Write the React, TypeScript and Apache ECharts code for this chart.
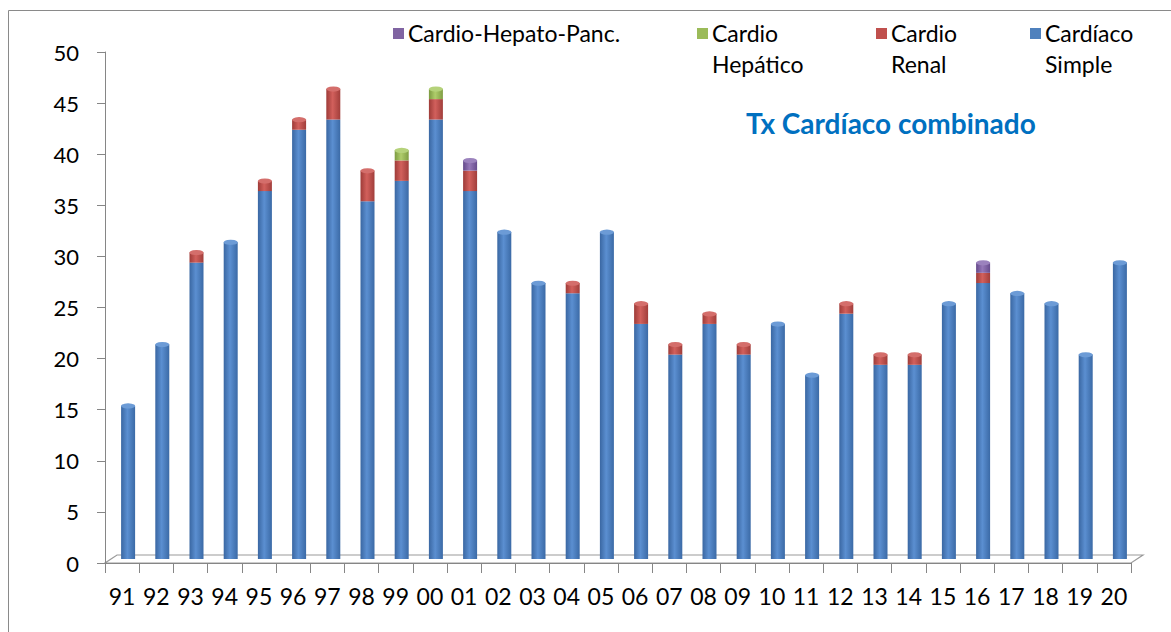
import React, { useEffect, useRef } from "react";
import * as echarts from "echarts";

const years = ["91","92","93","94","95","96","97","98","99","00","01","02","03","04","05","06","07","08","09","10","11","12","13","14","15","16","17","18","19","20"];
const cardiacoSimple = [15,21,29,31,36,42,43,35,37,43,36,32,27,26,32,23,20,23,20,23,18,24,19,19,25,27,26,25,20,29];
const cardioRenal = [0,0,1,0,1,1,3,3,2,2,2,0,0,1,0,2,1,1,1,0,0,1,1,1,0,1,0,0,0,0];
const cardioHepatico = [0,0,0,0,0,0,0,0,1,1,0,0,0,0,0,0,0,0,0,0,0,0,0,0,0,0,0,0,0,0];
const cardioHepatoPanc = [0,0,0,0,0,0,0,0,0,0,1,0,0,0,0,0,0,0,0,0,0,0,0,0,0,1,0,0,0,0];
const yMin = 0;
const yMax = 50;
const yInterval = 5;

const FONT = 'Lato, "Open Sans", sans-serif';

const palette = {
  simple: ["#3a67a2", "#5b8fd1", "#3b6aa6"],
  renal: ["#9e3b38", "#d2605c", "#a13e3b"],
  hepatico: ["#7c9a40", "#afcd6b", "#7f9d43"],
  panc: ["#64498a", "#9578b8", "#674c8d"],
};
const capColors = {
  simple: "#6c9bd6",
  renal: "#d46e6b",
  hepatico: "#b5d27a",
  panc: "#9b82bd",
};

function cyl(c: string[]) {
  return new echarts.graphic.LinearGradient(0, 0, 1, 0, [
    { offset: 0, color: c[0] },
    { offset: 0.45, color: c[1] },
    { offset: 1, color: c[2] },
  ]);
}

export default function App() {
  const ref = useRef<HTMLDivElement>(null);
  useEffect(() => {
    if (!ref.current) return;
    const chart = echarts.init(ref.current, undefined, { renderer: "svg" });

    const totals = years.map((_, i) => cardiacoSimple[i] + cardioRenal[i] + cardioHepatico[i] + cardioHepatoPanc[i]);
    const capData = totals.map((t, i) => {
      let key: keyof typeof capColors = "simple";
      if (cardioHepatoPanc[i] > 0) key = "panc";
      else if (cardioHepatico[i] > 0) key = "hepatico";
      else if (cardioRenal[i] > 0) key = "renal";
      return { value: t, itemStyle: { color: capColors[key], borderColor: palette[key][0], borderWidth: 0.6 } };
    });

    const barCommon = {
      type: "bar" as const,
      stack: "total",
      xAxisIndex: 1,
      yAxisIndex: 1,
      barWidth: 14,
    };

    const legendItems = [
      { x: 393, color: "#8064A2", lines: ["Cardio-Hepato-Panc."] },
      { x: 697, color: "#9BBB59", lines: ["Cardio", "Hepático"] },
      { x: 876, color: "#C0504D", lines: ["Cardio", "Renal"] },
      { x: 1030, color: "#4F81BD", lines: ["Cardíaco", "Simple"] },
    ];
    const legendGraphics: any[] = [];
    legendItems.forEach((it) => {
      legendGraphics.push({ type: "rect", z: 100, shape: { x: it.x, y: 28, width: 11, height: 11 }, style: { fill: it.color } });
      it.lines.forEach((ln, j) => {
        legendGraphics.push({
          type: "text",
          z: 100,
          x: it.x + 15,
          y: 33 + j * 31,
          style: { text: ln, fill: "#000", font: `23px ${FONT}`, verticalAlign: "middle", align: "left" },
        });
      });
    });

    chart.setOption({
      animation: false,
      backgroundColor: "#ffffff",
      title: {
        text: "Tx Cardíaco combinado",
        left: 741,
        top: 104,
        textStyle: { color: "#0070C0", fontSize: 28, fontWeight: "bold", fontFamily: FONT },
      },
      grid: [
        { left: 105, right: 40, top: 52, bottom: 69 },
        { left: 111, right: 34, top: 48, bottom: 73 },
      ],
      xAxis: [
        {
          type: "category",
          gridIndex: 0,
          data: years,
          boundaryGap: true,
          axisLine: { show: true, lineStyle: { color: "#868686", width: 1 } },
          axisTick: { show: true, length: 10, interval: 0, lineStyle: { color: "#868686" } },
          axisLabel: { interval: 0, color: "#000", fontSize: 23, fontFamily: FONT, margin: 21 },
          splitLine: { show: false },
        },
        { type: "category", gridIndex: 1, data: years, show: false },
      ],
      yAxis: [
        {
          type: "value",
          gridIndex: 0,
          min: yMin,
          max: yMax,
          interval: yInterval,
          axisLine: { show: true, lineStyle: { color: "#868686", width: 1 } },
          axisTick: { show: true, length: 8, lineStyle: { color: "#868686" } },
          axisLabel: { color: "#000", fontSize: 22, fontFamily: FONT, margin: 26 },
          splitLine: { show: false },
        },
        { type: "value", gridIndex: 1, min: yMin, max: yMax, interval: yInterval, show: false },
      ],
      series: [
        { ...barCommon, name: "Cardíaco Simple", data: cardiacoSimple, itemStyle: { color: cyl(palette.simple) } },
        { ...barCommon, name: "Cardio Renal", data: cardioRenal, itemStyle: { color: cyl(palette.renal) } },
        { ...barCommon, name: "Cardio Hepático", data: cardioHepatico, itemStyle: { color: cyl(palette.hepatico) } },
        { ...barCommon, name: "Cardio-Hepato-Panc.", data: cardioHepatoPanc, itemStyle: { color: cyl(palette.panc) } },
        {
          type: "pictorialBar",
          name: "cap",
          xAxisIndex: 1,
          yAxisIndex: 1,
          symbol: "circle",
          symbolSize: [14, 5],
          symbolPosition: "end",
          symbolOffset: [0, "-50%"],
          z: 10,
          data: capData,
          silent: true,
        },
      ],
      graphic: [
        {
          type: "rect",
          z: -10,
          shape: { x: 8.5, y: 10.5, width: 1300, height: 800 },
          style: { fill: "none", stroke: "#8a8a8a", lineWidth: 1 },
        },
        {
          type: "polygon",
          z: 0,
          shape: { points: [[105, 563], [1131, 563], [1143, 555], [117, 555]] },
          style: { fill: "#ffffff", stroke: "#9a9a9a", lineWidth: 1.2 },
        },
        ...legendGraphics,
      ],
    });

    return () => chart.dispose();
  }, []);

  return <div ref={ref} style={{ position: "absolute", left: 0, top: 0, width: 1171, height: 632 }} />;
}
